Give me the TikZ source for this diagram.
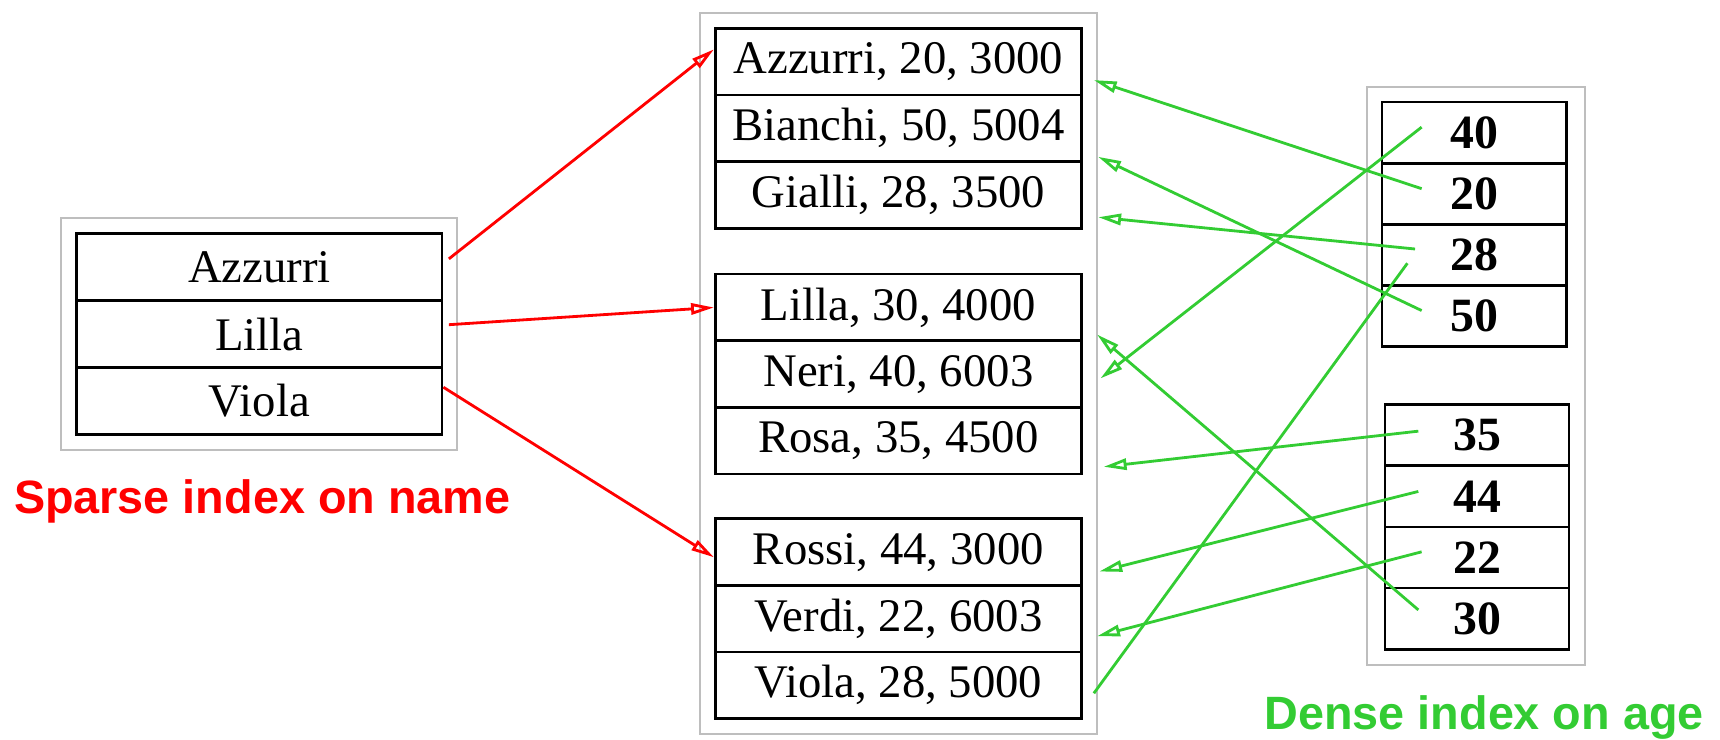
\documentclass[tikz,border=0pt]{standalone}
\usepackage{fontspec}
\setmainfont{Liberation Serif}
\newfontfamily\labelfont{Liberation Sans}
\usetikzlibrary{arrows.meta,fit,positioning}
\definecolor{sparse}{HTML}{FF0000}
\definecolor{dense}{HTML}{33CC33}
\definecolor{framegray}{HTML}{BEBEBE}

\tikzset{
  cell/.style={draw,line width=0.75pt,inner sep=0pt,font=\fontsize{13.3}{16}\selectfont},
  namecell/.style={cell,minimum width=3.653cm,minimum height=0.669cm},
  reccell/.style={cell,minimum width=3.664cm,minimum height=0.666cm},
  agecell/.style={cell,minimum width=1.843cm,minimum height=0.612cm,font=\fontsize{13.6}{16}\selectfont\bfseries},
  gframe/.style={draw=framegray,line width=0.55pt,inner sep=4pt},
  sparseptr/.style={draw=sparse,line width=0.8pt,-{Triangle[open,length=6.5pt,width=3.2pt]}},
  denseptr/.style={draw=dense,line width=0.8pt,-{Triangle[open,length=6.5pt,width=3.2pt]}},
  caption/.style={anchor=base,font=\fontsize{13.3}{16}\selectfont\labelfont\bfseries}
}

\begin{document}
\begin{tikzpicture}[x=1.097cm,y=-1.097cm]
      \useasboundingbox (0,0) rectangle (15.68,6.74);

      % sparse index
      \path
      (2.365,2.435) node[namecell](sAzzurri) {Azzurri}
      (2.365,3.045) node[namecell](sLilla) {Lilla}
      (2.365,3.655) node[namecell](sViola) {Viola}
      ;
      \node[gframe,fit=(sAzzurri)(sViola)] (sFrame) {};
      \node[caption,text=sparse] (sCaption) at (2.39,4.68) {Sparse index on name};

      % records
      \path
      (8.19,0.563) node[reccell](rAzzurri) {Azzurri, 20, 3000}
      (8.19,1.170) node[reccell](rBianchi) {Bianchi, 50, 5004}
      (8.19,1.777) node[reccell](rGialli) {Gialli, 28, 3500}
      (8.19,2.803) node[reccell](rLilla) {Lilla, 30, 4000}
      (8.19,3.410) node[reccell](rNeri) {Neri, 40, 6003}
      (8.19,4.017) node[reccell](rRosa) {Rosa, 35, 4500}
      (8.19,5.033) node[reccell](rRossi) {Rossi, 44, 3000}
      (8.19,5.640) node[reccell](rVerdi) {Verdi, 22, 6003}
      (8.19,6.247) node[reccell](rViola) {Viola, 28, 5000}
      ;
      \node[gframe,fit=(rAzzurri)(rViola)] (rFrame) {};

      % dense index
      \path
      (13.44,1.209) node[agecell](a40) {40}
      (13.44,1.766) node[agecell](a20) {20}
      (13.44,2.324) node[agecell](a28) {28}
      (13.44,2.881) node[agecell](a50) {50}
      (13.465,3.968) node[agecell](a35) {35}
      (13.465,4.525) node[agecell](a44) {44}
      (13.465,5.083) node[agecell](a22) {22}
      (13.465,5.640) node[agecell](a30) {30}
      ;
      \node[gframe,fit=(a40)(a30)] (aFrame) {};
      \node[caption,text=dense] (aCaption) at (13.53,6.65) {Dense index on age};

      \draw[sparseptr] ([shift={(0.05,-0.075)}]sAzzurri.east) -- ([shift={(0,-0.113)}]rAzzurri.west);
      \draw[sparseptr] ([shift={(0.05,-0.085)}]sLilla.east) -- (rLilla.west);
      \draw[sparseptr] ([shift={(0,-0.125)}]sViola.east) -- ([shift={(0,0.047)}]rRossi.west);

      \draw[denseptr] ([shift={(-0.48,-0.05)}]a40.center) -- ([shift={(0.16,0.04)}]rNeri.east);
      \draw[denseptr] ([shift={(-0.48,-0.046)}]a20.center) -- ([shift={(0.10,0.167)}]rAzzurri.east);
      \draw[denseptr] ([shift={(-0.54,-0.054)}]a28.center) -- ([shift={(0.14,0.203)}]rGialli.east);
      \draw[denseptr,-] ([shift={(-0.61,0.076)}]a28.center) -- ([shift={(0.10,0.073)}]rViola.east);
      \draw[denseptr] ([shift={(-0.48,-0.05)}]a50.center) -- ([shift={(0.14,0.26)}]rBianchi.east);
      \draw[denseptr] ([shift={(-0.535,-0.0375)}]a35.center) -- ([shift={(0.19,0.238)}]rRosa.east);
      \draw[denseptr] ([shift={(-0.535,-0.045)}]a44.center) -- ([shift={(0.15,0.177)}]rRossi.east);
      \draw[denseptr] ([shift={(-0.505,-0.0525)}]a22.center) -- ([shift={(0.13,0.16)}]rVerdi.east);
      \draw[denseptr] ([shift={(-0.535,-0.08)}]a30.center) -- ([shift={(0.13,0.247)}]rLilla.east);
    \end{tikzpicture}
\end{document}
